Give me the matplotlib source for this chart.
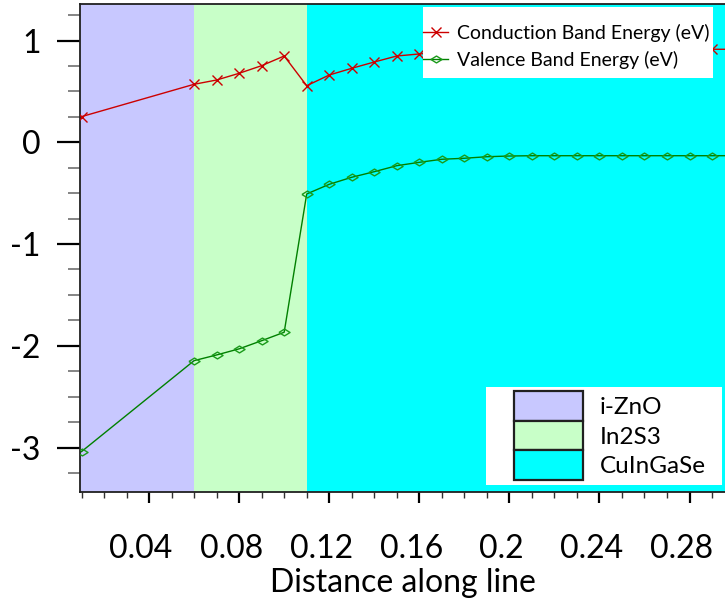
import numpy as np
import matplotlib
matplotlib.use('Agg')
import matplotlib.pyplot as plt
from matplotlib.patches import Patch, Rectangle
from matplotlib.lines import Line2D
from matplotlib.legend_handler import HandlerLine2D
from matplotlib.ticker import MultipleLocator, FixedLocator, FixedFormatter
import matplotlib.transforms as mtransforms

plt.rcParams['font.family'] = ['Lato', 'DejaVu Sans']
plt.rcParams['axes.unicode_minus'] = False

# distance along the cut line (um)
distance = [0.01, 0.06, 0.07, 0.08, 0.09, 0.10, 0.11, 0.12, 0.13, 0.14, 0.15,
            0.16, 0.17, 0.18, 0.19, 0.20, 0.21, 0.22, 0.23, 0.24, 0.25, 0.26,
            0.27, 0.28, 0.29, 0.30]
conduction = [0.252, 0.570, 0.612, 0.678, 0.753, 0.848, 0.556, 0.661, 0.727, 0.789,
              0.848, 0.868, 0.885, 0.895, 0.905, 0.910, 0.912, 0.913, 0.914, 0.914,
              0.914, 0.914, 0.914, 0.914, 0.914, 0.914]
valence = [-3.04, -2.146, -2.09, -2.03, -1.95, -1.867, -0.508, -0.413, -0.344, -0.289,
           -0.23, -0.197, -0.167, -0.157, -0.142, -0.135, -0.132, -0.132, -0.132, -0.132,
           -0.132, -0.132, -0.132, -0.132, -0.132, -0.132]

layers = ['i-ZnO', 'In2S3', 'CuInGaSe']
layer_edges = [0.0, 0.06, 0.11, 0.40]
layer_colors = ['#c8c8ff', '#c8ffc8', '#00ffff']

xticks = [0.04, 0.08, 0.12, 0.16, 0.2, 0.24, 0.28]
xtick_labels = ['0.04', '0.08', '0.12', '0.16', '0.2', '0.24', '0.28']
yticks = [-3, -2, -1, 0, 1]

W, H = 725, 606
fig = plt.figure(figsize=(W / 100, H / 100), dpi=100)
ax = fig.add_axes([80 / W, 1 - 492 / H, 1 - 80 / W, 488 / H])

for i in range(len(layers)):
    ax.axvspan(layer_edges[i], layer_edges[i + 1], color=layer_colors[i], lw=0, zorder=0)

diamond = [(-1, 0), (0, 0.62), (1, 0), (0, -0.62), (-1, 0)]
ax.plot(distance, conduction, color='#cc0000', lw=1, marker='x', ms=7, mew=1,
        label='Conduction Band Energy (eV)', zorder=3)
ax.plot(distance, valence, color='#008000', lw=1, marker=diamond, ms=8, mew=1,
        mfc='none', mec='#1a9a1a', label='Valence Band Energy (eV)', zorder=3)

ax.set_xlim(0.00933, 0.29575)
ax.set_ylim(-3.437, 1.359)

ax.xaxis.set_major_locator(FixedLocator(xticks))
ax.xaxis.set_major_formatter(FixedFormatter(xtick_labels))
ax.xaxis.set_minor_locator(MultipleLocator(0.01))
ax.yaxis.set_major_locator(FixedLocator(yticks))
ax.yaxis.set_minor_locator(MultipleLocator(0.25))

ax.tick_params(axis='y', which='major', length=16.5, width=1.6, pad=12,
               labelsize=23, color='black')
ax.tick_params(axis='y', which='minor', length=8.5, width=1.2, color='#707070')
ax.tick_params(axis='x', which='major', length=8, width=1.6, pad=22,
               labelsize=23, color='black')
ax.tick_params(axis='x', which='minor', length=4.3, width=1.0, color='#303030')
for lab in ax.get_xticklabels():
    lab.set_transform(lab.get_transform() +
                      mtransforms.ScaledTranslation(-8 / 100, 0, fig.dpi_scale_trans))

ax.spines['right'].set_visible(False)
for s in ['left', 'top', 'bottom']:
    ax.spines[s].set_linewidth(1.3)
    ax.spines[s].set_color('#202020')

ax.set_xlabel('Distance along line', fontsize=23, labelpad=3)


class EndMarkerHandler(HandlerLine2D):
    def get_xdata(self, legend, xdescent, ydescent, width, height, fontsize):
        return [-xdescent, -xdescent + width], [-xdescent + width * 0.92]


# upper legend: white box, curves
fig.patches.append(Rectangle((423 / W, 1 - 78 / H), 290 / W, 71 / H,
                             transform=fig.transFigure, facecolor='white',
                             edgecolor='none', zorder=5))
h1, l1 = ax.get_legend_handles_labels()
leg1 = fig.legend(h1, l1, loc='upper left', bbox_to_anchor=(423 / W, 1 - 24 / H),
                  bbox_transform=fig.transFigure, frameon=False, fontsize=14,
                  borderpad=0, borderaxespad=0, handlelength=1.3, handletextpad=0.45,
                  labelspacing=0.45, handler_map={Line2D: EndMarkerHandler()})
leg1.set_zorder(6)

# lower legend: white box, layer patches
fig.patches.append(Rectangle((486 / W, 1 - 485 / H), 236 / W, 98 / H,
                             transform=fig.transFigure, facecolor='white',
                             edgecolor='none', zorder=5))
h2 = [Patch(facecolor=c, edgecolor='#202020', lw=1.6) for c in layer_colors]
leg2 = fig.legend(h2, layers, loc='upper left', bbox_to_anchor=(514 / W, 1 - 391 / H),
                  bbox_transform=fig.transFigure, frameon=False, fontsize=17.5,
                  borderpad=0, borderaxespad=0, handlelength=2.83, handleheight=1.5,
                  handletextpad=0.7, labelspacing=0.0)
leg2.set_zorder(6)

fig.savefig('out.png', dpi=100)
